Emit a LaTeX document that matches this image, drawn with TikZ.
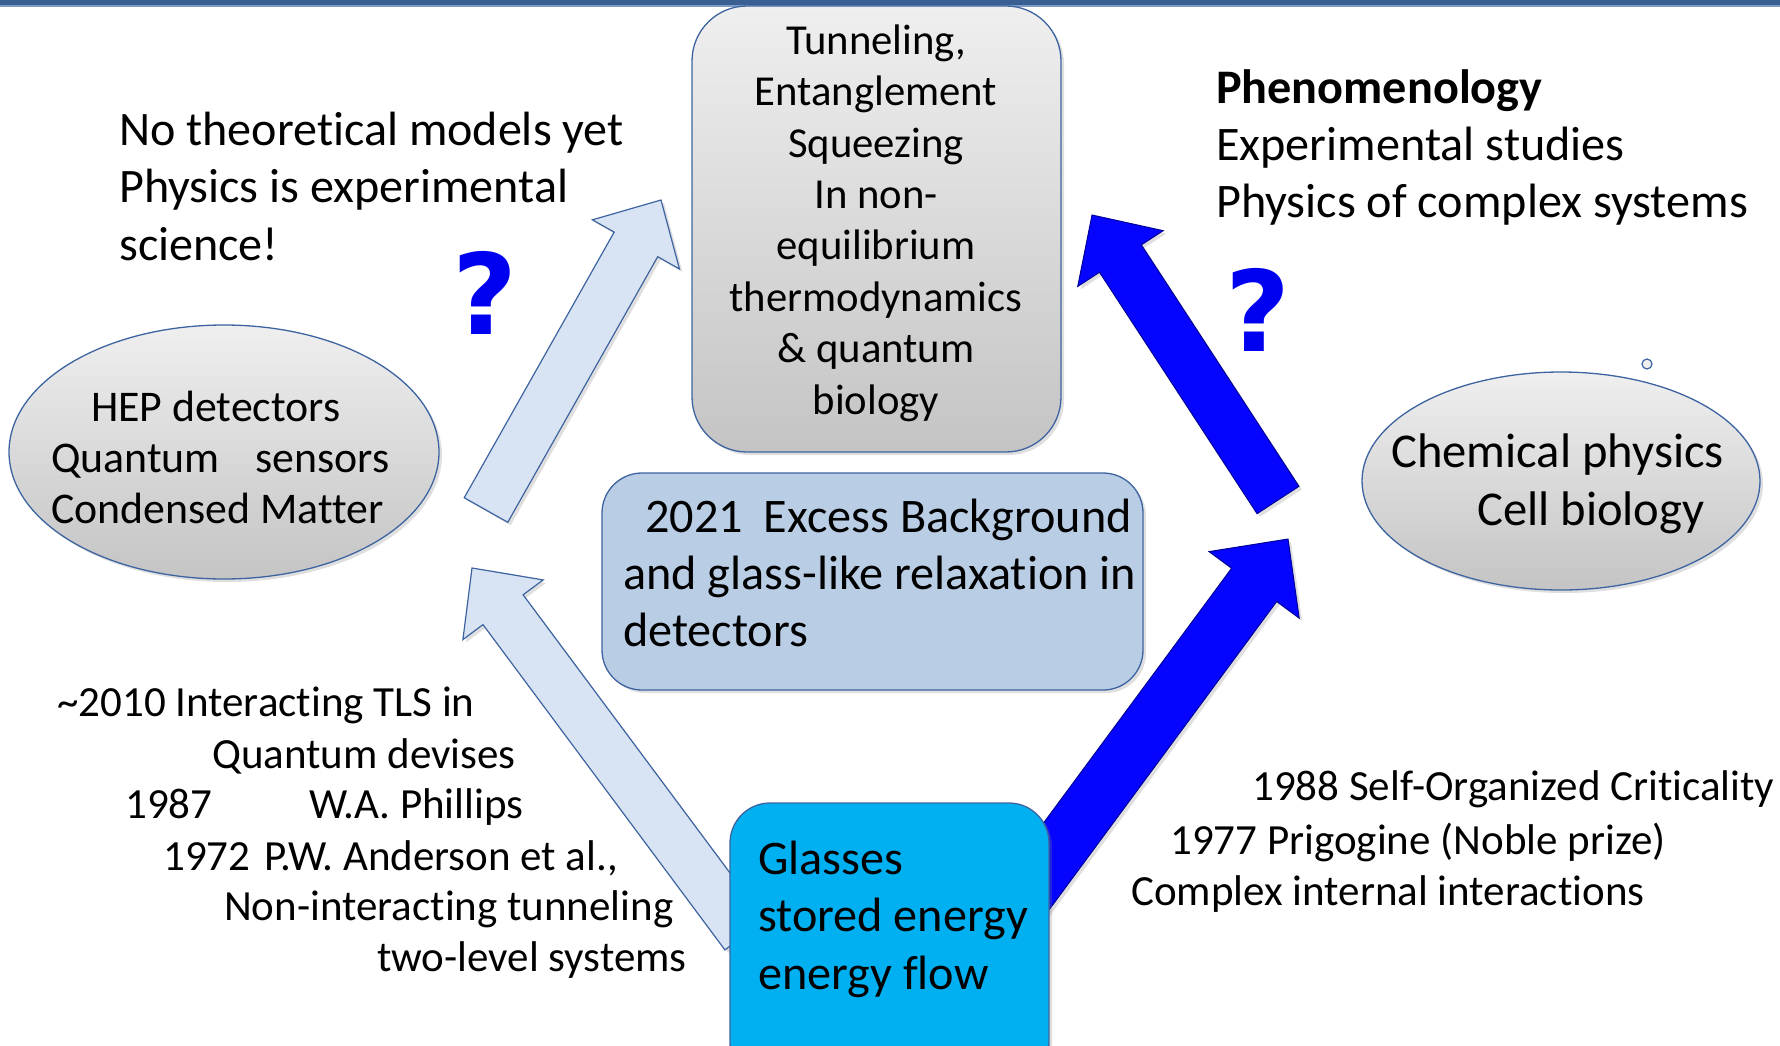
\documentclass[tikz,border=0pt]{standalone}
\usepackage{fontspec}
\setmainfont{Carlito}[Ligatures={NoCommon}]
\newfontfamily\qfont{DejaVu Sans}
\usetikzlibrary{calc,shadows,shapes.geometric}
\definecolor{bord}{HTML}{3D64A0}
\definecolor{topbar}{HTML}{3A5F93}
\definecolor{topbarlight}{HTML}{7D9CC8}
\definecolor{grayhi}{HTML}{EFEFEF}
\definecolor{graylo}{HTML}{C4C4C4}
\definecolor{midfill}{HTML}{B9CDE5}
\definecolor{cyanfill}{HTML}{00B0F0}
\definecolor{lightarrow}{HTML}{D8E4F3}
\definecolor{qblue}{HTML}{0000F0}
\definecolor{darrow}{HTML}{0505FF}
\newcommand\myfs[2]{\fontsize{#1}{#2}\selectfont}
\newcommand\fatarrow[6]{%
  \coordinate (H) at ($(#2)!#5!(#1)$);
  \draw[#6] ($(#1)!#3!90:(#2)$) -- ($(H)!#3!-90:(#1)$) -- ($(H)!#4!-90:(#1)$) -- (#2)
    -- ($(H)!#4!90:(#1)$) -- ($(H)!#3!90:(#1)$) -- ($(#1)!#3!-90:(#2)$) -- cycle;}
\tikzset{
  shad/.style={drop shadow={opacity=0.25,shadow xshift=3pt,shadow yshift=-3pt}},
  grayshape/.style={draw=bord, line width=1.3pt, top color=grayhi, bottom color=graylo, shad},
  lightarr/.style={draw=bord, line width=1.2pt, fill=lightarrow, shad},
  bluearr/.style={draw=blue!60!black, line width=1pt, fill=darrow, shad},
  txt/.style={inner sep=0pt, anchor=west, align=left},
  qmark/.style={inner sep=0pt, text=qblue, font=\qfont\bfseries\myfs{112}{112}}
}
\begin{document}
\begin{tikzpicture}[x=1pt,y=-1pt]
\useasboundingbox (0,0) rectangle (1780,1045);
\clip (0,0) rectangle (1780,1045);
% top bar
\fill[topbar] (0,0) rectangle (1780,5);
\fill[topbarlight] (0,5) rectangle (1780,7);

% arrow end points
\coordinate (a1t) at (486,510);  \coordinate (a1h) at (661,200);
\coordinate (a2t) at (745,935);  \coordinate (a2h) at (472,568);
\coordinate (a3t) at (1278,500); \coordinate (a3h) at (1092,215);
\coordinate (a4t) at (1020,902); \coordinate (a4h) at (1288,539);

\fatarrow{a1t}{a1h}{25pt}{50pt}{51pt}{lightarr}
\fatarrow{a2t}{a2h}{25pt}{50pt}{52pt}{lightarr}
\fatarrow{a3t}{a3h}{25pt}{51pt}{52pt}{bluearr}
\fatarrow{a4t}{a4h}{28pt}{56pt}{57pt}{bluearr}

% shapes
\node[grayshape, rounded corners=55pt, minimum width=369pt, minimum height=446pt, inner sep=0pt] (top) at (876.5,229) {};
\node[grayshape, ellipse, minimum width=430pt, minimum height=254pt, inner sep=0pt] (left) at (224,452) {};
\node[grayshape, ellipse, minimum width=398pt, minimum height=218pt, inner sep=0pt] (right) at (1561,481) {};
\node[draw=bord, line width=1.3pt, fill=midfill, rounded corners=40pt, shad, minimum width=541pt, minimum height=217pt, inner sep=0pt] (mid) at (872.5,581.5) {};
\node[draw=bord, line width=1.3pt, fill=cyanfill, rounded corners=40pt, shad, minimum width=319pt, minimum height=280pt, inner sep=0pt] (bot) at (889.5,943) {};
\node[circle, draw=bord, line width=1.2pt, fill=grayhi, minimum size=10pt, inner sep=0pt] (dot) at (1647,364) {};

% texts in shapes
\node[inner sep=0pt, align=center, font=\myfs{42.7}{51.4}] (toptxt) at (876,223) {Tunneling,\\Entanglement\\Squeezing\\In non-\\equilibrium\\thermodynamics\\\& quantum\\biology};
\node[txt, font=\myfs{43.8}{51}] (lefttxt) at (51,457) {\hspace*{40pt}HEP detectors\\Quantum\hspace{26pt} sensors\\Condensed Matter};
\node[txt, font=\myfs{48.6}{58}] (righttxt) at (1391,484) {Chemical physics\\\hspace*{86pt}Cell biology};
\node[txt, font=\myfs{48.2}{57}] (midtxt) at (623,573) {\hspace*{22pt}2021\hspace{10pt} Excess Background\\and glass-like relaxation in\\detectors};
\node[txt, font=\myfs{48.2}{57.5}] (bottxt) at (758,919) {Glasses\\stored energy\\energy flow};

% free texts
\node[txt, font=\myfs{48.1}{57.5}] (tl) at (119,186) {No theoretical models yet\\Physics is experimental\\science!};
\node[txt, font=\myfs{48.2}{57}] (tr) at (1216,147) {\textbf{Phenomenology}\\Experimental studies\\Physics of complex systems};

\node[txt, font=\myfs{43}{51}] (bl1) at (57,705) {\textasciitilde 2010 Interacting TLS in};
\node[txt, font=\myfs{43}{51}] (bl2) at (212,756) {Quantum devises};
\node[txt, font=\myfs{43}{51}] (bl3) at (125,807) {1987\hspace{97pt}W.A. Phillips};
\node[txt, font=\myfs{43}{51}] (bl4) at (163,858) {1972\hspace{4pt} P.W. Anderson et al.,};
\node[txt, font=\myfs{43}{51}] (bl5) at (224,909) {Non-interacting tunneling};
\node[txt, font=\myfs{43}{51}] (bl6) at (377,960) {two-level systems};

\node[txt, font=\myfs{43}{51}] (br1) at (1252,789) {1988 Self-Organized Criticality};
\node[txt, font=\myfs{43}{51}] (br2) at (1170,842) {1977 Prigogine (Noble prize)};
\node[txt, font=\myfs{43}{51}] (br3) at (1131,894) {Complex internal interactions};

\node[qmark] (q1) at (485,293) {?};
\node[qmark] (q2) at (1258,310) {?};
\end{tikzpicture}
\end{document}
